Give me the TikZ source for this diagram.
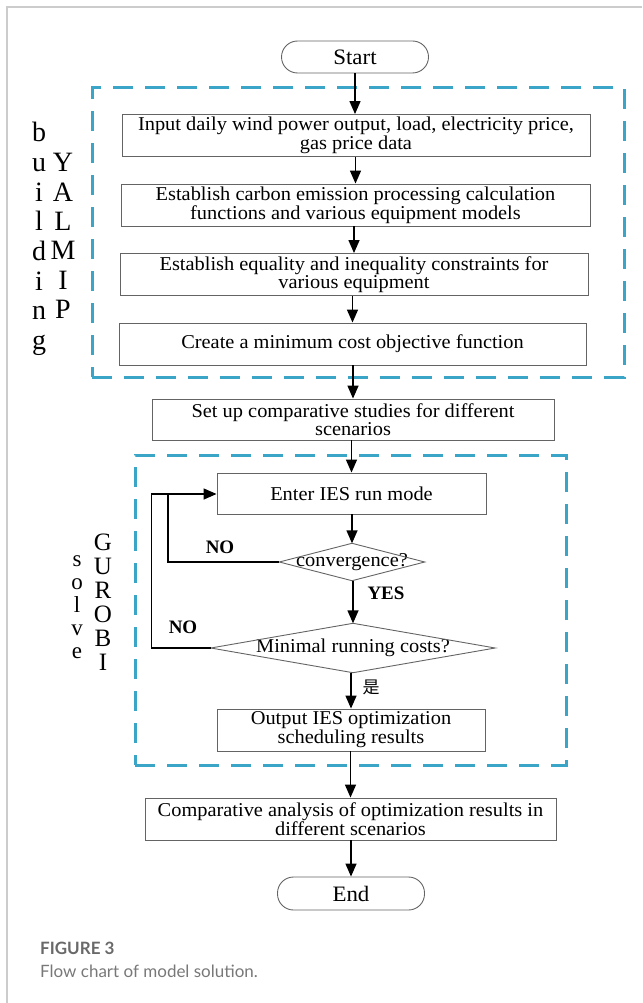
\documentclass[tikz,border=0pt]{standalone}
\usepackage{fontspec}
\setmainfont{Liberation Serif}
\newfontfamily\boxfont{Liberation Serif}[FakeStretch=1.04]
\newfontfamily\capfont{Lato}
\newfontfamily\cjkfont{Noto Sans CJK SC}
\usetikzlibrary{arrows.meta}
\definecolor{dashblue}{RGB}{58,165,199}
\definecolor{boxgray}{RGB}{100,100,100}
\definecolor{framegray}{RGB}{204,204,204}
\definecolor{capdark}{RGB}{105,105,105}
\definecolor{caplight}{RGB}{120,120,120}
\begin{document}
\begin{tikzpicture}[x=1pt,y=-1pt,
 procbox/.style={draw=boxgray, line width=0.9pt, minimum height=42pt, inner sep=0pt, align=center,
   font=\boxfont\fontsize{19.6}{16.2}\selectfont},
 termbox/.style={procbox, rounded corners=16pt, minimum width=147pt, minimum height=32pt,
   font=\boxfont\fontsize{22}{22}\selectfont},
 decision/.style={inner sep=0pt, font=\boxfont\fontsize{19.6}{16.2}\selectfont},
 decisionline/.style={draw=boxgray, line width=0.9pt},
 flow/.style={line width=1.4pt, -{Triangle[length=13pt,width=11pt]}},
 loopline/.style={line width=1.4pt},
 dashbox/.style={draw=dashblue, line width=3pt, dash pattern=on 20pt off 12pt},
 bigletter/.style={font=\fontsize{28}{28}\selectfont, anchor=base, inner sep=0pt},
 midletter/.style={font=\fontsize{25}{25}\selectfont, anchor=base, inner sep=0pt},
 smallletter/.style={font=\fontsize{23}{23}\selectfont, anchor=base, inner sep=0pt},
 lab/.style={font=\bfseries\fontsize{19}{19}\selectfont, inner sep=0pt},
 capbold/.style={font=\capfont\bfseries\fontsize{17}{17}\selectfont, text=capdark, anchor=base west, inner sep=0pt},
 captext/.style={font=\capfont\fontsize{17}{17}\selectfont, text=caplight, anchor=base west, inner sep=0pt}
]
\useasboundingbox (0,0) rectangle (642,1003);
% card frame
\draw[framegray, line width=1.5pt] (7,1003) -- (7,7) -- (642,7);

% dashed groups
\node[dashbox, minimum width=532pt, minimum height=289pt, inner sep=0pt] (grpa) at (358,232.5) {};
\node[dashbox, minimum width=431pt, minimum height=310pt, inner sep=0pt] (grpb) at (350.5,610) {};

% nodes
\node[termbox] (start) at (355,57) {Start};
\node[procbox, minimum width=468pt] (b1) at (356,135.5) {Input daily wind power output, load, electricity price,\\gas price data};
\node[procbox, minimum width=469pt] (b2) at (355.5,205) {Establish carbon emission processing calculation\\functions and various equipment models};
\node[procbox, minimum width=468pt] (b3) at (354,274.5) {Establish equality and inequality constraints for\\various equipment};
\node[procbox, minimum width=467pt] (b4) at (352.5,344) {Create a minimum cost objective function};
\node[procbox, minimum width=402pt, minimum height=41pt] (setup) at (353,419.5) {Set up comparative studies for different\\scenarios};
\node[procbox, minimum width=269pt, minimum height=41pt] (enter) at (351.5,493.5) {Enter IES run mode};
\node[decision, minimum width=145pt, minimum height=37pt] (conv) at (352,562) {convergence?};
\draw[decisionline] (conv.west) -- (conv.north) -- (conv.east) -- (conv.south) -- cycle;
\node[decision, minimum width=284pt, minimum height=49pt] (mincost) at (353,648) {Minimal running costs?};
\draw[decisionline] (mincost.west) -- (mincost.north) -- (mincost.east) -- (mincost.south) -- cycle;
\node[procbox, minimum width=268pt] (output) at (351,730) {Output IES optimization\\scheduling results};
\node[procbox, minimum width=411pt] (comp) at (350.5,819) {Comparative analysis of optimization results in\\different scenarios};
\node[termbox, minimum height=33pt] (stop) at (351,893.5) {End};

% connectors
\draw[flow] (start.south) -- (start.south |- b1.north);
\draw[flow] (b1.south -| b2.north) -- (b2.north);
\draw[flow] (b2.south -| b3.north) -- (b3.north);
\draw[flow] (b3.south -| b4.north) -- (b4.north);
\draw[flow] (b4.south -| setup.north) -- (setup.north);
\draw[flow] (setup.south -| enter.north) -- (enter.north);
\draw[flow] (enter.south -| conv.north) -- (conv.north);
\draw[flow] (conv.south -| mincost.north) -- (mincost.north);
\draw[flow] (mincost.south -| output.north) -- (output.north);
\draw[flow] (output.south -| comp.north) -- (comp.north);
\draw[flow] (comp.south -| stop.north) -- (stop.north);

\coordinate (loopin) at (168,494);
\coordinate (loopout) at (151.5,494);
\draw[loopline] (conv.west) -| (loopin);
\draw[flow] (mincost.west) -| (loopout) -- (enter.west |- loopout);

% branch labels
\node[lab] (no1) at (220,547) {NO};
\node[lab] (no2) at (183,627) {NO};
\node[lab] (yes) at (386,593) {YES};
\node[font=\cjkfont\fontsize{17}{17}\selectfont, inner sep=0pt] (shi) at (371,687) {是};

% vertical labels
\foreach \ch [count=\i from 0] in {b,u,i,l,d,i,n,g}
  \node[bigletter] (bl\i) at (39,142+29.6*\i) {\ch};
\foreach \ch [count=\i from 0] in {Y,A,L,M,I,P}
  \node[bigletter] (yl\i) at (63,171.6+29.4*\i) {\ch};
\foreach \ch [count=\i from 0] in {s,o,l,v,e}
  \node[smallletter] (sl\i) at (77,566+23.2*\i) {\ch};
\foreach \ch [count=\i from 0] in {G,U,R,O,B,I}
  \node[midletter] (gl\i) at (103,550.5+24*\i) {\ch};

% caption
\node[capbold] (figno) at (40,954) {FIGURE 3};
\node[captext] (figcap) at (40,977) {Flow chart of model solution.};
\end{tikzpicture}
\end{document}
